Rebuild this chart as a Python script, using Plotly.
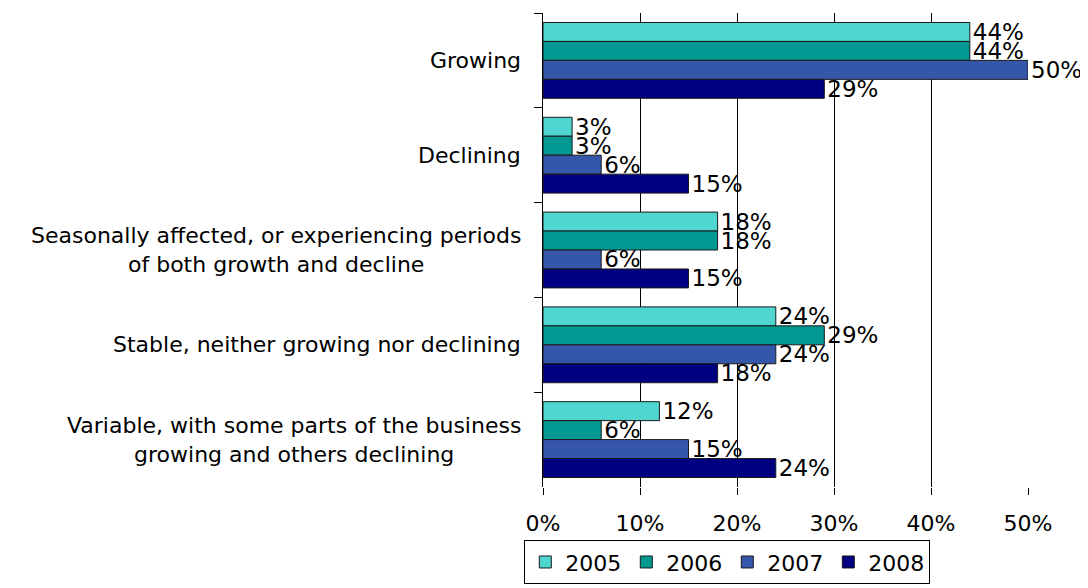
import plotly.graph_objects as go

categories = [
    "Growing",
    "Declining",
    "Seasonally affected, or experiencing periods<br>of both growth and decline",
    "Stable, neither growing nor declining",
    "Variable, with some parts of the business<br>growing and others declining",
]
years = ["2005", "2006", "2007", "2008"]
values = {
    "2005": [44, 3, 18, 24, 12],
    "2006": [44, 3, 18, 29, 6],
    "2007": [50, 6, 6, 24, 15],
    "2008": [29, 15, 15, 18, 24],
}
colors = {
    "2005": "#4fd6d0",
    "2006": "#009890",
    "2007": "#3557aa",
    "2008": "#000080",
}

FONT = "DejaVu Sans"
FS = 22

fig = go.Figure()
for yr in years:
    fig.add_trace(go.Bar(
        name=yr,
        y=categories,
        x=values[yr],
        orientation="h",
        marker=dict(color=colors[yr], line=dict(color="#1a1a1a", width=1)),
        text=[f"{v}%" for v in values[yr]],
        textposition="outside",
        textfont=dict(family=FONT, size=23, color="black"),
        constraintext="none",
        cliponaxis=False,
    ))

# category labels, lines centred on each other
for cat in categories:
    fig.add_annotation(
        x=-0.042, xref="paper", y=cat, yref="y",
        text=cat, showarrow=False, xanchor="right", align="center",
        font=dict(family=FONT, size=FS, color="black"),
    )

# page body has an 8px margin, so the figure is a bit smaller than the window
fig.update_layout(
    barmode="group",
    bargap=0.2,
    bargroupgap=0,
    width=1080,
    height=580,
    margin=dict(l=535, r=60, t=5, b=101, autoexpand=False),
    paper_bgcolor="white",
    plot_bgcolor="white",
    font=dict(family=FONT, size=FS, color="black"),
    showlegend=True,
    legend=dict(
        orientation="h",
        x=0.38, xanchor="center",
        y=-0.205, yanchor="bottom",
        bordercolor="black", borderwidth=1,
        font=dict(family=FONT, size=FS),
        itemwidth=30,
    ),
)
fig.update_xaxes(
    range=[0, 50], dtick=10, ticksuffix="%",
    showgrid=True, gridcolor="black", gridwidth=1,
    zeroline=False, showline=False,
    ticks="outside", ticklen=7, tickcolor="black",
    ticklabelstandoff=10, automargin=False,
    tickfont=dict(family=FONT, size=FS),
)
fig.update_yaxes(
    autorange="reversed",
    showticklabels=False,
    showline=True, linecolor="black", linewidth=1,
    ticks="outside", ticklen=8, tickcolor="black",
    tickson="boundaries", automargin=False,
    showgrid=False,
)

fig.write_html("out.html")
